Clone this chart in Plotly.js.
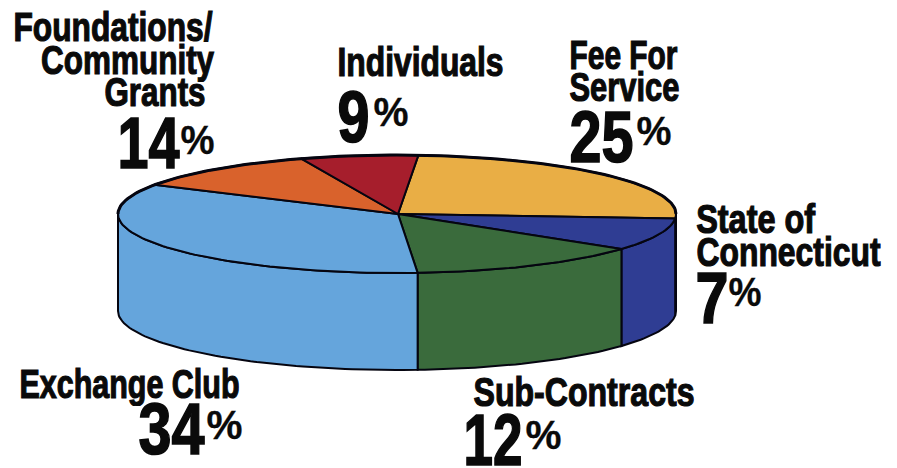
<!DOCTYPE html>
<html>
<head>
<meta charset="utf-8">
<script src="https://cdn.plot.ly/plotly-3.0.1.min.js"></script>
<style>
html,body{margin:0;padding:0;background:#fff;overflow:hidden}
#chart{width:897px;height:468px}
.annotation-text{paint-order:stroke}
</style>
</head>
<body>
<div id="chart"></div>
<script>
// Slice order runs clockwise from the top of the pie.
var categories = ['Fee For Service','State of Connecticut','Sub-Contracts','Exchange Club','Foundations/ Community Grants','Individuals'];
var labelLines = [['Fee For','Service'],['State of','Connecticut'],['Sub-Contracts'],['Exchange Club'],['Foundations/','Community','Grants'],['Individuals']];
var printedPercent = [25,7,12,34,14,9];
// Share of the ellipse each slice occupies as drawn (the artwork differs from its printed figures).
var drawnShare = [25,8.9,13.7,34.4,11.2,6.8];
var colors = ['#e9ae45','#2f3d93','#3a6b3c','#65a5dc','#d9622c','#a61e2c'];

var FONT = '"Liberation Sans",sans-serif';
var INK = '#0a0a0a';
var cx = 397, cy = 214, rx = 279, ry = 59, depth = 97, startDeg = 85.6;

function pt(deg, dy){
  var r = deg*Math.PI/180;
  return [cx + rx*Math.cos(r), cy - ry*Math.sin(r) + (dy||0)];
}
function arc(a, b, dy){
  var out = [], n = Math.max(2, Math.ceil(Math.abs(a-b)/1.5));
  for (var i=0;i<=n;i++) out.push(pt(a+(b-a)*i/n, dy));
  return out;
}
function poly(points, fill, width){
  return {type:'scatter', mode:'lines', x:points.map(function(p){return p[0]}), y:points.map(function(p){return p[1]}),
    fill: fill ? 'toself' : 'none', fillcolor: fill || undefined, line:{color:'#050510', width:width, shape:'linear'},
    hoverinfo:'skip', showlegend:false, cliponaxis:false};
}

var total = drawnShare.reduce(function(a,b){return a+b},0);
var walls = [], tops = [], angle = startDeg;
drawnShare.forEach(function(s,i){
  var next = angle - s/total*360;
  var a = Math.min(angle,0), b = Math.max(next,-180);
  if (a > b){
    walls.push(poly(arc(a,b,0).concat(arc(b,a,depth)).concat([pt(a,0)]), colors[i], 2));
  }
  tops.push(poly([[cx+1,cy]].concat(arc(angle,next,0)).concat([[cx+1,cy]]), colors[i], 2));
  tops[tops.length-1].name = categories[i];
  angle = next;
});
var backRim = poly(arc(0,180,0), null, 3);

// Text boxes read from the artwork: l/r = horizontal extent, y = vertical centre of each line.
var place = [
  {lines:[[569,677,55],[569,679,87]],            num:[569,633,137], pct:[636,671,131]},
  {lines:[[696,815,219],[696,880,252]],          num:[695,728,298], pct:[728,761,292]},
  {lines:[[473,694,392]],                        num:[463,522,440], pct:[525,561,435]},
  {lines:[[19,239,384]],                         num:[138,204,429], pct:[206,242,425]},
  {lines:[[13,212,27],[41,214,60],[104,205,92]], num:[117,179,143], pct:[180,214,140]},
  {lines:[[337,503,62]],                         num:[337,369,117], pct:[373,408,112]}
];
var annotations = [], widths = [], strokes = [];
function note(box,text,size,stroke){
  annotations.push({xref:'x',yref:'y',x:(box[0]+box[1])/2,y:box[2],text:text,showarrow:false,
    xanchor:'center',yanchor:'middle',borderpad:0,width:box[1]-box[0]+3,align:'center',
    font:{family:FONT,size:size,color:INK,weight:700}});
  widths.push(box[1]-box[0]);
  strokes.push(stroke);
}
place.forEach(function(p,i){
  labelLines[i].forEach(function(line,j){ note(p.lines[j],line,40,1.2); });
  note(p.num,String(printedPercent[i]),72,1.6);
  note(p.pct,'%',40,0.3);
});

var layout = {
  width:897, height:468, margin:{l:0,r:0,t:0,b:0,pad:0},
  paper_bgcolor:'#fff', plot_bgcolor:'#fff', showlegend:false,
  xaxis:{range:[0,897],visible:false,fixedrange:true},
  yaxis:{range:[468,0],visible:false,fixedrange:true},
  annotations:annotations
};
Plotly.newPlot('chart', walls.concat(tops).concat([backRim]), layout, {displayModeBar:false,staticPlot:true}).then(function(gd){
  // The artwork's lettering is condensed: squeeze each real text run to its measured width.
  gd.querySelectorAll('.annotation').forEach(function(g){
    var i = +g.getAttribute('data-index');
    var t = g.querySelector('.annotation-text');
    t.setAttribute('textLength', widths[i]);
    t.setAttribute('lengthAdjust','spacingAndGlyphs');
    t.style.stroke = INK;
    t.style.strokeWidth = strokes[i]+'px';
  });
});
</script>
</body>
</html>
